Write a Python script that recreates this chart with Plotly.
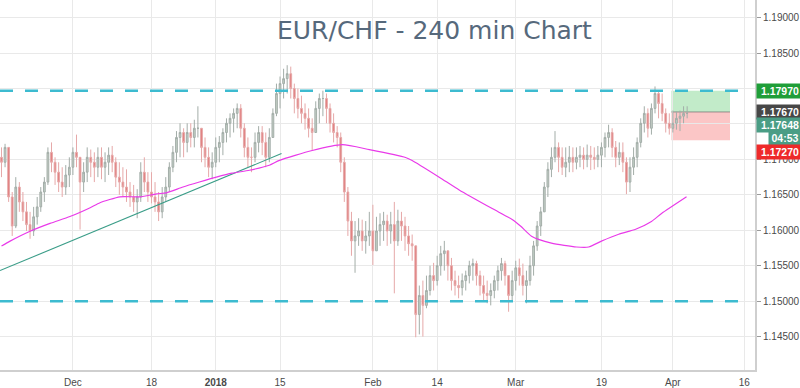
import pandas as pd
import plotly.graph_objects as go

# ---------------- data (EUR/CHF, 12h candles) ----------------
first_open = 1.1703
highs = [
    1.1717, 1.1722, 1.1714, 1.1654, 1.1675, 1.1668, 1.1654, 1.1640, 1.1626, 1.1633,
    1.1647, 1.1661, 1.1675, 1.1717, 1.1724, 1.1703, 1.1696, 1.1689, 1.1692, 1.1703,
    1.1717, 1.1735, 1.1703, 1.1696, 1.1717, 1.1714, 1.1710, 1.1717, 1.1717, 1.1710,
    1.1717, 1.1719, 1.1703, 1.1696, 1.1689, 1.1686, 1.1668, 1.1664, 1.1658, 1.1696,
    1.1703, 1.1682, 1.1682, 1.1668, 1.1654, 1.1661, 1.1675, 1.1696, 1.1719, 1.1740,
    1.1751, 1.1744, 1.1751, 1.1751, 1.1756, 1.1775, 1.1744, 1.1731, 1.1717, 1.1710,
    1.1731, 1.1733, 1.1744, 1.1758, 1.1765, 1.1772, 1.1779, 1.1778, 1.1751, 1.1731,
    1.1717, 1.1738, 1.1747, 1.1747, 1.1738, 1.1744, 1.1772, 1.1807, 1.1817, 1.1828,
    1.1833, 1.1831, 1.1807, 1.1800, 1.1790, 1.1779, 1.1772, 1.1758, 1.1782, 1.1793,
    1.1797, 1.1793, 1.1779, 1.1765, 1.1747, 1.1738, 1.1703, 1.1661, 1.1626, 1.1613,
    1.1617, 1.1615, 1.1613, 1.1626, 1.1636, 1.1619, 1.1624, 1.1626, 1.1622, 1.1626,
    1.1640, 1.1629, 1.1626, 1.1619, 1.1606, 1.1594, 1.1578, 1.1522, 1.1529, 1.1536,
    1.1550, 1.1554, 1.1564, 1.1578, 1.1585, 1.1571, 1.1561, 1.1543, 1.1536, 1.1539,
    1.1543, 1.1557, 1.1560, 1.1557, 1.1543, 1.1536, 1.1529, 1.1525, 1.1536, 1.1550,
    1.1561, 1.1557, 1.1536, 1.1543, 1.1557, 1.1560, 1.1553, 1.1543, 1.1564, 1.1585,
    1.1613, 1.1633, 1.1668, 1.1696, 1.1717, 1.1740, 1.1724, 1.1717, 1.1717, 1.1719,
    1.1717, 1.1717, 1.1719, 1.1717, 1.1721, 1.1719, 1.1717, 1.1719, 1.1724, 1.1738,
    1.1749, 1.1744, 1.1726, 1.1724, 1.1724, 1.1703, 1.1703, 1.1717, 1.1731, 1.1758,
    1.1775, 1.1772, 1.1779, 1.1803, 1.1797, 1.1793, 1.1772, 1.1765, 1.1769, 1.1768,
    1.1769, 1.1775, 1.1775,
]
lows = [
    1.1675, 1.1689, 1.1640, 1.1592, 1.1603, 1.1626, 1.1613, 1.1599, 1.1588, 1.1592,
    1.1608, 1.1626, 1.1640, 1.1664, 1.1682, 1.1664, 1.1654, 1.1647, 1.1650, 1.1661,
    1.1678, 1.1689, 1.1601, 1.1654, 1.1668, 1.1675, 1.1668, 1.1675, 1.1672, 1.1668,
    1.1678, 1.1682, 1.1661, 1.1650, 1.1647, 1.1640, 1.1633, 1.1626, 1.1617, 1.1640,
    1.1654, 1.1640, 1.1638, 1.1626, 1.1613, 1.1617, 1.1640, 1.1654, 1.1682, 1.1696,
    1.1703, 1.1703, 1.1710, 1.1717, 1.1717, 1.1731, 1.1696, 1.1689, 1.1675, 1.1672,
    1.1689, 1.1696, 1.1706, 1.1724, 1.1731, 1.1738, 1.1744, 1.1731, 1.1703, 1.1689,
    1.1682, 1.1696, 1.1710, 1.1706, 1.1689, 1.1696, 1.1731, 1.1761, 1.1772, 1.1786,
    1.1793, 1.1786, 1.1765, 1.1758, 1.1751, 1.1742, 1.1731, 1.1712, 1.1738, 1.1751,
    1.1761, 1.1751, 1.1738, 1.1724, 1.1717, 1.1682, 1.1640, 1.1592, 1.1564, 1.1540,
    1.1578, 1.1571, 1.1567, 1.1578, 1.1551, 1.1571, 1.1578, 1.1585, 1.1578, 1.1581,
    1.1511, 1.1578, 1.1585, 1.1571, 1.1564, 1.1557, 1.1449, 1.1453, 1.1450, 1.1490,
    1.1508, 1.1515, 1.1522, 1.1536, 1.1543, 1.1529, 1.1515, 1.1508, 1.1504, 1.1508,
    1.1515, 1.1525, 1.1529, 1.1522, 1.1508, 1.1501, 1.1497, 1.1494, 1.1504, 1.1515,
    1.1529, 1.1522, 1.1485, 1.1501, 1.1515, 1.1522, 1.1508, 1.1497, 1.1522, 1.1536,
    1.1571, 1.1592, 1.1626, 1.1647, 1.1675, 1.1696, 1.1682, 1.1678, 1.1675, 1.1682,
    1.1682, 1.1686, 1.1689, 1.1686, 1.1689, 1.1685, 1.1686, 1.1689, 1.1689, 1.1703,
    1.1717, 1.1703, 1.1689, 1.1692, 1.1682, 1.1651, 1.1654, 1.1678, 1.1689, 1.1717,
    1.1738, 1.1731, 1.1735, 1.1765, 1.1758, 1.1754, 1.1738, 1.1735, 1.1738, 1.1742,
    1.1740, 1.1751, 1.1758,
]
closes = [
    1.1696, 1.1717, 1.1647, 1.1606, 1.1661, 1.1640, 1.1626, 1.1608, 1.1599, 1.1619,
    1.1633, 1.1654, 1.1668, 1.1710, 1.1696, 1.1682, 1.1668, 1.1661, 1.1678, 1.1689,
    1.1710, 1.1703, 1.1668, 1.1682, 1.1703, 1.1696, 1.1689, 1.1703, 1.1689, 1.1696,
    1.1706, 1.1696, 1.1675, 1.1668, 1.1661, 1.1654, 1.1647, 1.1640, 1.1647, 1.1682,
    1.1668, 1.1654, 1.1647, 1.1640, 1.1626, 1.1647, 1.1661, 1.1689, 1.1710, 1.1731,
    1.1738, 1.1724, 1.1738, 1.1731, 1.1744, 1.1744, 1.1717, 1.1703, 1.1689, 1.1696,
    1.1717, 1.1724, 1.1738, 1.1751, 1.1758, 1.1765, 1.1772, 1.1744, 1.1717, 1.1703,
    1.1703, 1.1724, 1.1738, 1.1724, 1.1703, 1.1731, 1.1765, 1.1793, 1.1807, 1.1814,
    1.1821, 1.1800, 1.1786, 1.1772, 1.1765, 1.1758, 1.1744, 1.1738, 1.1772, 1.1786,
    1.1786, 1.1772, 1.1751, 1.1738, 1.1731, 1.1696, 1.1654, 1.1613, 1.1585, 1.1592,
    1.1599, 1.1585, 1.1592, 1.1599, 1.1571, 1.1599, 1.1608, 1.1613, 1.1599, 1.1608,
    1.1585, 1.1613, 1.1606, 1.1592, 1.1581, 1.1578, 1.1481, 1.1508, 1.1494, 1.1515,
    1.1536, 1.1529, 1.1550, 1.1567, 1.1571, 1.1550, 1.1529, 1.1522, 1.1519, 1.1529,
    1.1536, 1.1550, 1.1553, 1.1536, 1.1522, 1.1511, 1.1508, 1.1515, 1.1529, 1.1543,
    1.1553, 1.1536, 1.1508, 1.1529, 1.1547, 1.1536, 1.1522, 1.1529, 1.1550, 1.1578,
    1.1606, 1.1626, 1.1661, 1.1686, 1.1703, 1.1717, 1.1703, 1.1689, 1.1696, 1.1703,
    1.1696, 1.1703, 1.1706, 1.1700, 1.1706, 1.1703, 1.1700, 1.1706, 1.1717, 1.1731,
    1.1738, 1.1717, 1.1703, 1.1710, 1.1696, 1.1668, 1.1689, 1.1703, 1.1724, 1.1751,
    1.1765, 1.1744, 1.1772, 1.1793, 1.1779, 1.1765, 1.1751, 1.1744, 1.1751, 1.1758,
    1.1761, 1.1765, 1.1765,
]

# moving average (magenta) read at selected dates
ma_dates = [
    "2017-11-17 00:00", "2017-11-20 05:00", "2017-11-23 00:00", "2017-11-27 19:00",
    "2017-11-30 14:00", "2017-12-05 10:00", "2017-12-06 19:00", "2017-12-11 14:00",
    "2017-12-14 10:00", "2017-12-18 17:00", "2017-12-20 02:00", "2017-12-22 10:00",
    "2017-12-27 17:00", "2018-01-02 02:00", "2018-01-04 07:00", "2018-01-08 17:00",
    "2018-01-11 12:00", "2018-01-12 22:00", "2018-01-19 12:00", "2018-01-25 17:00",
    "2018-01-31 12:00", "2018-02-07 14:00", "2018-02-08 12:00", "2018-02-14 07:00",
    "2018-02-19 02:00", "2018-02-23 17:00", "2018-02-28 12:00", "2018-03-01 17:00",
    "2018-03-05 05:00", "2018-03-08 00:00", "2018-03-13 12:00", "2018-03-15 05:00",
    "2018-03-19 00:00", "2018-03-21 10:00", "2018-03-23 19:00", "2018-03-28 00:00",
    "2018-03-29 10:00", "2018-04-03 22:00",
]
ma_values = [
    1.15778, 1.15847, 1.15986, 1.16097, 1.16194, 1.16319, 1.16389, 1.16472,
    1.16472, 1.16514, 1.16528, 1.16611, 1.16681, 1.16750, 1.16806, 1.16847,
    1.16917, 1.16986, 1.17125, 1.17208, 1.17139, 1.17028, 1.16986, 1.16750,
    1.16569, 1.16306, 1.16153, 1.16056, 1.15917, 1.15819, 1.15764, 1.15764,
    1.15847, 1.15944, 1.16014, 1.16125, 1.16236, 1.16472,
]

trend_dates = ["2017-11-16 19:00", "2018-01-15 05:00"]
trend_values = [1.15431, 1.17083]

levels = [1.1797, 1.1500]
tp_level, entry_level, sl_level = 1.1797, 1.1767, 1.1727
box_dates = ["2018-03-30 19:00", "2018-04-12 00:00"]

tick_dates = ["2017-12-01", "2017-12-18", "2018-01-02", "2018-01-15", "2018-02-01",
              "2018-02-14", "2018-03-01", "2018-03-19", "2018-04-02", "2018-04-16"]
tick_text = ["Dec", "18", "<b>2018</b>", "15", "Feb", "14", "Mar", "19", "Apr", "16"]
y_ticks = [1.145, 1.150, 1.155, 1.160, 1.165, 1.170, 1.175, 1.180, 1.185, 1.190]

# price labels on the right scale: (text, shown at price, colour)
price_labels = [
    ("1.17970", 1.17970, "#1f9e38"),
    ("1.17670", 1.17663, "#474747"),
    ("1.17648", 1.17482, "#4a9d85"),
    ("04:53", 1.17306, "#4a9d85"),
    ("1.17270", 1.17111, "#ee2a2a"),
]

# ---------------- build ----------------
holidays = [pd.Timestamp("2017-12-25"), pd.Timestamp("2018-01-01")]
days = [d for d in pd.bdate_range("2017-11-17", "2018-04-06") if d not in holidays]
times = []
for d in days:
    times.append(d)
    times.append(d + pd.Timedelta(hours=12))
times = times[:len(closes)]
opens = [first_open] + closes[:-1]
hi = [max(h, o, c) for h, o, c in zip(highs, opens, closes)]
lo = [min(l, o, c) for l, o, c in zip(lows, opens, closes)]

fig = go.Figure()

# position tool boxes
fig.add_shape(type="rect", xref="x", yref="y", x0=box_dates[0], x1=box_dates[1],
              y0=entry_level, y1=tp_level, fillcolor="rgba(120,210,135,0.45)",
              line=dict(width=0), layer="below")
fig.add_shape(type="rect", xref="x", yref="y", x0=box_dates[0], x1=box_dates[1],
              y0=sl_level, y1=entry_level, fillcolor="rgba(245,120,120,0.42)",
              line=dict(width=0), layer="below")
fig.add_shape(type="line", xref="x", yref="y", x0=box_dates[0], x1=box_dates[1],
              y0=entry_level, y1=entry_level, line=dict(color="rgba(110,110,110,0.7)", width=1),
              layer="below")

for lv in levels:
    fig.add_shape(type="line", xref="paper", yref="y", x0=0, x1=0.985, y0=lv, y1=lv,
                  line=dict(color="#3dbbd0", width=2.5, dash="13px,12px"), layer="above")

fig.add_trace(go.Scatter(x=pd.to_datetime(trend_dates), y=trend_values, mode="lines",
                         line=dict(color="#3a9d88", width=1.1), hoverinfo="skip",
                         showlegend=False))

fig.add_trace(go.Candlestick(
    x=times, open=opens, high=hi, low=lo, close=closes,
    increasing=dict(line=dict(color="#a3ada8", width=1), fillcolor="#c3cfc6"),
    decreasing=dict(line=dict(color="#e6a8a8", width=1), fillcolor="#e07878"),
    whiskerwidth=0, showlegend=False,
))

fig.add_trace(go.Scatter(x=pd.to_datetime(ma_dates), y=ma_values, mode="lines",
                         line=dict(color="#e93ae9", width=1.15, shape="spline", smoothing=0.6),
                         hoverinfo="skip", showlegend=False))

fig.add_annotation(text="EUR/CHF - 240 min Chart", xref="paper", yref="paper",
                   x=0.575, y=0.918, showarrow=False, xanchor="center", yanchor="middle",
                   font=dict(family="DejaVu Sans", size=25, color="#56697c"))

for txt, yv, col in price_labels:
    narrow = ":" in txt
    fig.add_annotation(text="<b>%s</b>" % txt, xref="paper", yref="y", x=1, y=yv,
                       xanchor="left", yanchor="middle", showarrow=False,
                       xshift=13 if narrow else 1, width=30 if narrow else 44, height=12,
                       align="center", bgcolor=col, borderpad=1,
                       font=dict(family="Liberation Sans", size=10.5, color="white"))

fig.update_layout(
    width=800, height=388,
    margin=dict(l=0, r=43, t=0, b=12),
    paper_bgcolor="white", plot_bgcolor="white",
    showlegend=False,
    xaxis=dict(
        type="date",
        range=["2017-11-16 19:00", "2018-04-17 12:00"],
        rangebreaks=[dict(bounds=["sat", "mon"]),
                     dict(values=["2017-12-25", "2018-01-01"], dvalue=86400000)],
        rangeslider=dict(visible=False),
        tickmode="array", tickvals=tick_dates, ticktext=tick_text,
        showgrid=True, gridcolor="#e9e9e9", gridwidth=1,
        showline=True, linecolor="#cfcfcf", linewidth=2,
        ticks="outside", ticklen=2, tickcolor="rgba(0,0,0,0)",
        tickfont=dict(family="Liberation Sans", size=10, color="#4a4a4a"),
        zeroline=False,
    ),
    yaxis=dict(
        side="right", range=[1.14028, 1.1925],
        tickmode="array", tickvals=y_ticks, tickformat=".5f",
        showgrid=True, gridcolor="#e9e9e9", gridwidth=1,
        showline=True, linecolor="#cfcfcf", linewidth=2,
        ticks="outside", ticklen=4, tickcolor="#9a9a9a",
        tickfont=dict(family="Liberation Sans", size=10, color="#4a4a4a"),
        zeroline=False,
    ),
)

fig.write_html("out.html", config={"displayModeBar": False},
               post_script="document.body.style.margin='0px';document.body.style.overflow='hidden';")
